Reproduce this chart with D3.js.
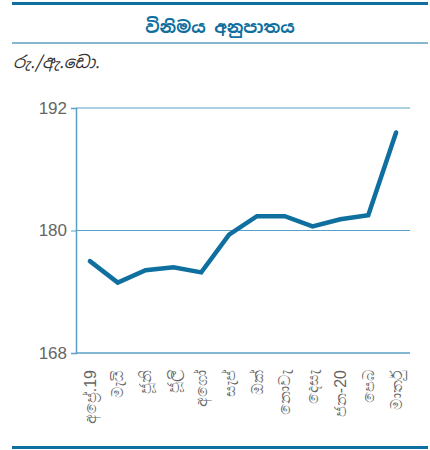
<!DOCTYPE html>
<html>
<head>
<meta charset="utf-8">
<script src="https://cdn.jsdelivr.net/npm/d3@7"></script>
<style>
  body { margin: 0; background: #fff; }
  svg { font-family: "Noto Sans Sinhala", "Noto Sans", sans-serif; }
</style>
</head>
<body>
<svg id="chart" width="430" height="450"></svg>
<script>
// data
var months = ["අප්‍රේ.19", "මැයි", "ජූනි", "ජූලි", "අගෝ", "සැප්", "ඔක්", "නොවැ", "දෙසැ", "ජන-20", "පෙබ", "මාර්තු"];
var rates = [177.0, 174.9, 176.1, 176.4, 175.9, 179.6, 181.4, 181.4, 180.4, 181.1, 181.5, 189.6];
var yTicks = [168, 180, 192];

var svg = d3.select("#chart");
var lineColor = "#0f6f9f";
var gridColor = "#5a9fc6";

// top + bottom rules
svg.append("rect").attr("x", 12).attr("y", 2).attr("width", 416).attr("height", 3).attr("fill", lineColor);
svg.append("rect").attr("x", 12).attr("y", 446).attr("width", 416).attr("height", 3).attr("fill", lineColor);
svg.append("line").attr("x1", 12).attr("x2", 428).attr("y1", 43).attr("y2", 43)
    .attr("stroke", lineColor).attr("stroke-width", 1);

svg.append("text")
    .attr("x", 220).attr("y", 33)
    .attr("text-anchor", "middle")
    .attr("font-size", 17).attr("font-weight", "bold")
    .attr("fill", lineColor)
    .text("විනිමය අනුපාතය");

svg.append("text")
    .attr("x", 13).attr("y", 68)
    .attr("font-size", 17).attr("font-style", "italic")
    .attr("fill", "#333")
    .text("රු./ඇ.ඩො.");

var plotL = 76, plotR = 410, plotT = 108, plotB = 353;

var x = d3.scaleBand().domain(months).range([plotL, plotR]);
var y = d3.scaleLinear().domain([168, 192]).range([plotB, plotT]);

// gridlines
svg.append("g").selectAll("line").data(yTicks).enter().append("line")
    .attr("x1", plotL).attr("x2", plotR)
    .attr("y1", function(d) { return y(d); })
    .attr("y2", function(d) { return y(d); })
    .attr("stroke", gridColor).attr("stroke-width", function(d) { return d === 168 ? 1.5 : 1; });

var yAxis = d3.axisLeft(y).tickValues(yTicks).tickSize(5).tickPadding(4);
var gy = svg.append("g")
    .attr("transform", "translate(" + plotL + ",0)")
    .call(yAxis);
gy.select(".domain").attr("stroke", gridColor).attr("stroke-width", 1.5);
gy.selectAll(".tick line").attr("stroke", gridColor);
gy.selectAll(".tick text")
    .attr("font-family", "Liberation Sans, Arial, sans-serif")
    .attr("font-size", 17).attr("fill", "#666");

var xAxis = d3.axisBottom(x).tickSize(0).tickPadding(0);
var gx = svg.append("g")
    .attr("transform", "translate(0," + plotB + ")")
    .call(xAxis);
gx.select(".domain").remove();
gx.selectAll(".tick text")
    .attr("transform", "rotate(-90)")
    .attr("text-anchor", "end")
    .attr("x", -17).attr("y", 0).attr("dy", "0.35em")
    .attr("font-size", 16).attr("fill", "#666");

var line = d3.line()
    .x(function(d, i) { return x(months[i]) + x.bandwidth() / 2; })
    .y(function(d) { return y(d); });

svg.append("path")
    .datum(rates)
    .attr("d", line)
    .attr("fill", "none")
    .attr("stroke", lineColor)
    .attr("stroke-width", 4.5)
    .attr("stroke-linecap", "round")
    .attr("stroke-linejoin", "miter");
</script>
</body>
</html>
